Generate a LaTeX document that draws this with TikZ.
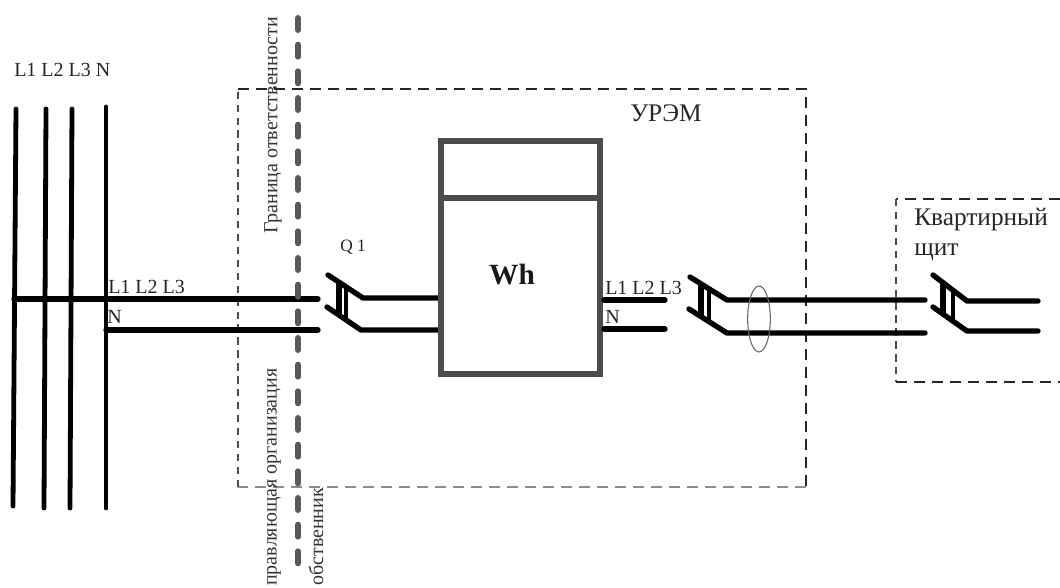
\documentclass[tikz,border=0pt]{standalone}
\usepackage{fontspec}
\usetikzlibrary{shapes.geometric}
\setmainfont{Liberation Serif}
\tikzset{
 x=0.75pt,y=-0.75pt,
 wire/.style={line width=4pt,line cap=round,line join=round,black},
 bus/.style={line width=3.6pt,line cap=round,black},
 framedark/.style={line width=2.2pt,dash pattern=on 8pt off 5.5pt,black!85},
 framelight/.style={line width=1.9pt,dash pattern=on 5.5pt off 4.2pt,black!70},
 framefaint/.style={line width=1.6pt,dash pattern=on 8pt off 5.5pt,black!45},
 border/.style={line width=4.5pt,black!65,dash pattern=on 9pt off 11pt,line cap=round},
 lbl/.style={inner sep=0pt,font=\fontsize{15pt}{18pt}\selectfont,text=black!85,anchor=west},
 vlbl/.style={inner sep=0pt,font=\fontsize{15pt}{18pt}\selectfont,text=black!80,rotate=90,anchor=west},
 big/.style={inner sep=0pt,font=\fontsize{19pt}{22.5pt}\selectfont,text=black!85,anchor=west},
}
\begin{document}
\begin{tikzpicture}
\useasboundingbox (0,0) rectangle (1060,587);
% frames
\coordinate (ua) at (238,89); \coordinate (ub) at (806,89);
\coordinate (uc) at (806,487); \coordinate (ud) at (238,487);
\draw[framedark] (ua) -- (ub) -- (uc);
\draw[framefaint] (uc) -- (ud);
\draw[framelight] (ud) -- (ua);
\coordinate (ka) at (1060,199); \coordinate (kb) at (896,199);
\coordinate (kc) at (896,382); \coordinate (kd) at (1060,382);
\draw[framedark] (ka) -- (kb);
\draw[framelight] (kb) -- (kc);
\draw[framedark] (kc) -- (kd);
% coordinates
\coordinate (busAt) at (106,107);
\coordinate (busAb) at (106,508);
\coordinate (L1t) at (16,109); \coordinate (L1b) at (13,506);
\coordinate (L2t) at (46,109); \coordinate (L2b) at (44,508);
\coordinate (L3t) at (72,109); \coordinate (L3b) at (70,508);
\coordinate (inU) at (14,299); \coordinate (inUe) at (318,299);
\coordinate (inNs) at (106,330); \coordinate (inNe) at (318,330);
% busbars
\draw[bus] (L1t) -- (L1b);
\draw[bus] (L2t) -- (L2b);
\draw[bus] (L3t) -- (L3b);
\draw[bus] (busAt) -- (busAb);
\draw[wire] (inU) -- (inUe);
\draw[wire] (inNs) -- (inNe);
% responsibility border
\coordinate (bt) at (298,18);
\coordinate (bb) at (298,570);
\draw[border] (bt) -- (bb);
% switch Q1
\coordinate (a1) at (328,275); \coordinate (a2) at (363,298); \coordinate (a3) at (440,298);
\coordinate (b1) at (327,307); \coordinate (b2) at (361,330); \coordinate (b3) at (440,330);
\draw[wire] (a1) -- (a2) -- (a3);
\draw[wire] (b1) -- (b2) -- (b3);
\coordinate (s1a) at (339,283); \coordinate (s1b) at (339,314);
\coordinate (s1c) at (346,287); \coordinate (s1d) at (346,320);
\draw[line width=4.2pt,black] (s1a) -- (s1b);
\draw[line width=3.4pt,black] (s1c) -- (s1d);
% meter
\node[draw=black!70,line width=4.4pt,minimum width=119.25pt,minimum height=174.75pt,inner sep=0pt,anchor=north west,outer sep=0pt] (meter) at (441,141) {};
\coordinate (da) at (441,198); \coordinate (db) at (600,198);
\draw[black!70,line width=4pt] (da) -- (db);
\node[inner sep=0pt,font=\bfseries\fontsize{22pt}{26pt}\selectfont,text=black!90] (wh) at (512,275) {Wh};
% outputs
\coordinate (o1) at (604,300); \coordinate (o1e) at (665,300);
\coordinate (o2) at (604,329); \coordinate (o2e) at (665,329);
\draw[wire] (o1) -- (o1e);
\draw[wire] (o2) -- (o2e);
% switch 2
\coordinate (c1) at (690,277); \coordinate (c2) at (727,300); \coordinate (c3) at (925,300);
\coordinate (d1) at (689,309); \coordinate (d2) at (727,333); \coordinate (d3) at (925,333);
\draw[wire] (c1) -- (c2) -- (c3);
\draw[wire] (d1) -- (d2) -- (d3);
\coordinate (s2a) at (701,284); \coordinate (s2b) at (701,316);
\coordinate (s2c) at (709,290); \coordinate (s2d) at (709,323);
\draw[line width=4.8pt,black] (s2a) -- (s2b);
\draw[line width=3pt,black] (s2c) -- (s2d);
% switch 3
\coordinate (e1) at (933,275); \coordinate (e2) at (967,301); \coordinate (e3) at (1038,301);
\coordinate (f1) at (933,307); \coordinate (f2) at (967,331); \coordinate (f3) at (1038,331);
\draw[wire] (e1) -- (e2) -- (e3);
\draw[wire] (f1) -- (f2) -- (f3);
\coordinate (s3a) at (943,283); \coordinate (s3b) at (943,313);
\coordinate (s3c) at (953,290); \coordinate (s3d) at (953,320);
\draw[line width=4.4pt,black] (s3a) -- (s3b);
\draw[line width=3pt,black] (s3c) -- (s3d);
% cable ellipse
\node[draw=black!60,line width=0.8pt,ellipse,minimum width=17pt,minimum height=49.5pt,inner sep=0pt] (cable) at (759,319) {};
% labels
\node[lbl] (t1) at (14,70) {L1 L2 L3 N};
\node[lbl] (t2) at (108,287) {L1 L2 L3};
\node[lbl] (t3) at (107,317) {N};
\node[lbl] (t4) at (605,288) {L1 L2 L3};
\node[lbl] (t5) at (605,317) {N};
\node[lbl,font=\fontsize{13pt}{16pt}\selectfont] (q) at (340,247) {Q 1};
\node[big] (urem) at (630,113) {УРЭМ};
\node[big,align=left,anchor=north west] (kv) at (914,208) {Квартирный\\щит};
\node[vlbl] (g) at (273,234) {Граница ответственности};
\node[vlbl] (u) at (274,586) {правляющая организация};
\node[vlbl] (s) at (316,586) {обственник};
\end{tikzpicture}
\end{document}
